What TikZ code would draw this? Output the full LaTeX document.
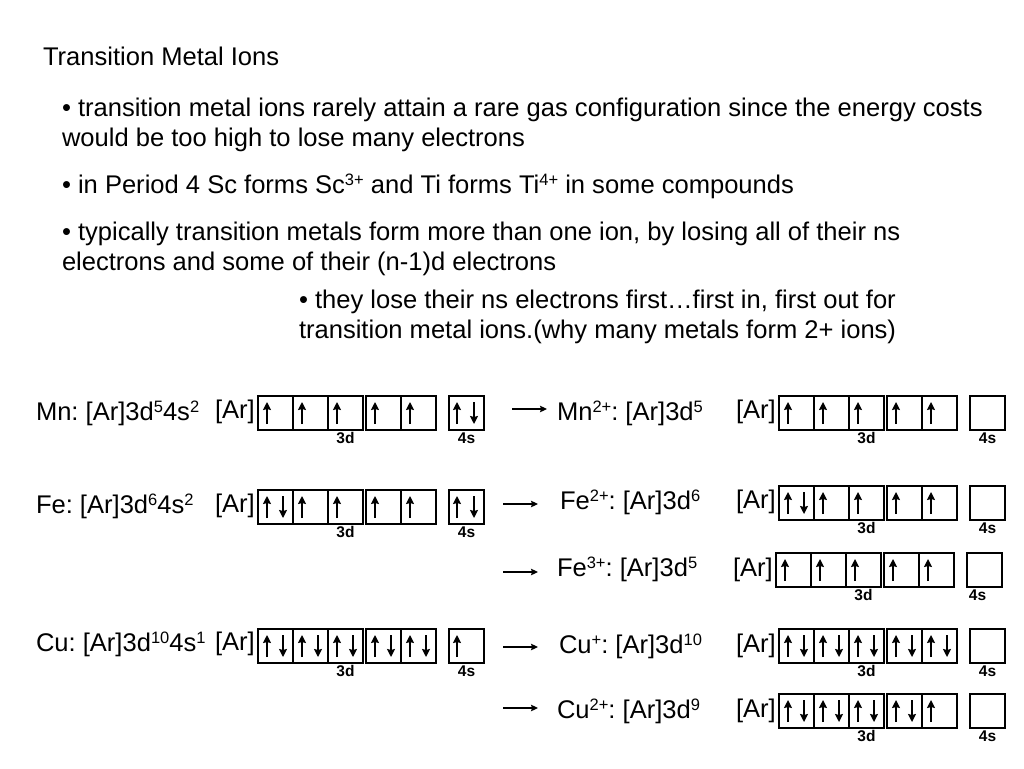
\documentclass[tikz,border=0pt]{standalone}
\usepackage{fontspec}
\setmainfont{Liberation Sans}
\usetikzlibrary{arrows.meta}
\frenchspacing
\newcommand{\sz}[1]{\raisebox{0.3em}{\fontsize{16.5}{16.5}\selectfont #1}}
\tikzset{
  txt/.style={anchor=base west,inner sep=0pt,outer sep=0pt,font=\fontsize{25.55}{30}\selectfont,align=left},
  formula/.style={anchor=base west,inner sep=0pt,outer sep=0pt,font=\fontsize{25.55}{30}\selectfont},
  orb/.style={draw=black,line width=2.2pt,anchor=north west,minimum width=35pt,minimum height=34pt,inner sep=0pt,outer sep=0pt},
  elec/.style={line width=1.6pt,-{Stealth[length=8pt,width=8pt,inset=1pt]}},
  rxn/.style={line width=1.1pt,-{Stealth[length=7pt,width=6.5pt,inset=1pt]}},
  sublabel/.style={anchor=base,inner sep=0pt,outer sep=0pt,font=\fontsize{15.5}{15.5}\selectfont\bfseries}
}
% [4s label shift]{row name}{x}{y}{electrons in boxes 1..6}
\newcommand{\orbrow}[5][0]{%
  \foreach \c [count=\i] in {#5}{%
    \edef\ox{\ifcase\i\or0\or35\or70\or108\or143\or191\fi}%
    \edef\ue{\ifnum\i=6 8\else 9\fi}%
    \node[orb] (#2-\i) at ({#3+\ox},#4) {};
    \ifnum\c>0
      \draw[elec] ([shift={(\ue,28)}]#2-\i.north west) -- ([shift={(\ue,6)}]#2-\i.north west);
    \fi
    \ifnum\c>1
      \draw[elec] ([shift={(25,6)}]#2-\i.north west) -- ([shift={(25,28)}]#2-\i.north west);
    \fi
  }
  \node[sublabel] (#2-3d) at ([yshift=-13pt]#2-3.south) {3d};
  \node[sublabel] (#2-4s) at ([xshift=#1pt,yshift=-13pt]#2-6.south) {4s};
}
\begin{document}
\begin{tikzpicture}[x=1pt,y=-1pt]
\useasboundingbox (0,0) rectangle (1024,768);
\node[txt] (title) at (43,65) {Transition Metal Ions};
\node[txt] (p1) at (62,146) {• transition metal ions rarely attain a rare gas configuration since the energy costs\\would be too high to lose many electrons};
\node[txt] (p2) at (62,193) {• in Period 4 Sc forms Sc\sz{3+} and Ti forms Ti\sz{4+} in some compounds};
\node[txt] (p3) at (62,270) {• typically transition metals form more than one ion, by losing all of their ns\\electrons and some of their (n-1)d electrons};
\node[txt] (p4) at (299,338) {• they lose their ns electrons first…first in, first out for\\transition metal ions.(why many metals form 2+ ions)};

\node[formula] (mn) at (36,420) {Mn: [Ar]3d\sz{5}4s\sz{2}};
\node[formula] (fe) at (36,513) {Fe: [Ar]3d\sz{6}4s\sz{2}};
\node[formula] (cu) at (36,651) {Cu: [Ar]3d\sz{10}4s\sz{1}};
\node[formula] (mnp) at (557,420) {Mn\sz{2+}: [Ar]3d\sz{5}};
\node[formula] (fep) at (560,509) {Fe\sz{2+}: [Ar]3d\sz{6}};
\node[formula] (fepp) at (557,576) {Fe\sz{3+}: [Ar]3d\sz{5}};
\node[formula] (cup) at (559,653) {Cu\sz{+}: [Ar]3d\sz{10}};
\node[formula] (cupp) at (557,718) {Cu\sz{2+}: [Ar]3d\sz{9}};

\node[formula] (ar1) at (215,418) {[Ar]};
\node[formula] (ar2) at (215,512) {[Ar]};
\node[formula] (ar3) at (215,650) {[Ar]};
\node[formula] (ar4) at (736,418) {[Ar]};
\node[formula] (ar5) at (736,508) {[Ar]};
\node[formula] (ar6) at (733,576) {[Ar]};
\node[formula] (ar7) at (736,652) {[Ar]};
\node[formula] (ar8) at (736,717) {[Ar]};

\orbrow{mnL}{258}{396}{1,1,1,1,1,2}
\orbrow{feL}{258}{490}{2,1,1,1,1,2}
\orbrow{cuL}{258}{629}{2,2,2,2,2,1}
\orbrow{mnR}{779}{396}{1,1,1,1,1,0}
\orbrow{feR}{779}{486}{2,1,1,1,1,0}
\orbrow[-7]{fe3R}{776}{553}{1,1,1,1,1,0}
\orbrow{cuR}{779}{629}{2,2,2,2,2,0}
\orbrow{cu2R}{779}{694}{2,2,2,2,1,0}

\coordinate (a1s) at (512,409); \coordinate (a1e) at (547,409);
\coordinate (a2s) at (503,504); \coordinate (a2e) at (538,504);
\coordinate (a3s) at (503,572); \coordinate (a3e) at (538,572);
\coordinate (a4s) at (503,647); \coordinate (a4e) at (538,647);
\coordinate (a5s) at (503,708); \coordinate (a5e) at (538,708);
\foreach \k in {1,...,5} \draw[rxn] (a\k s) -- (a\k e);
\end{tikzpicture}
\end{document}
